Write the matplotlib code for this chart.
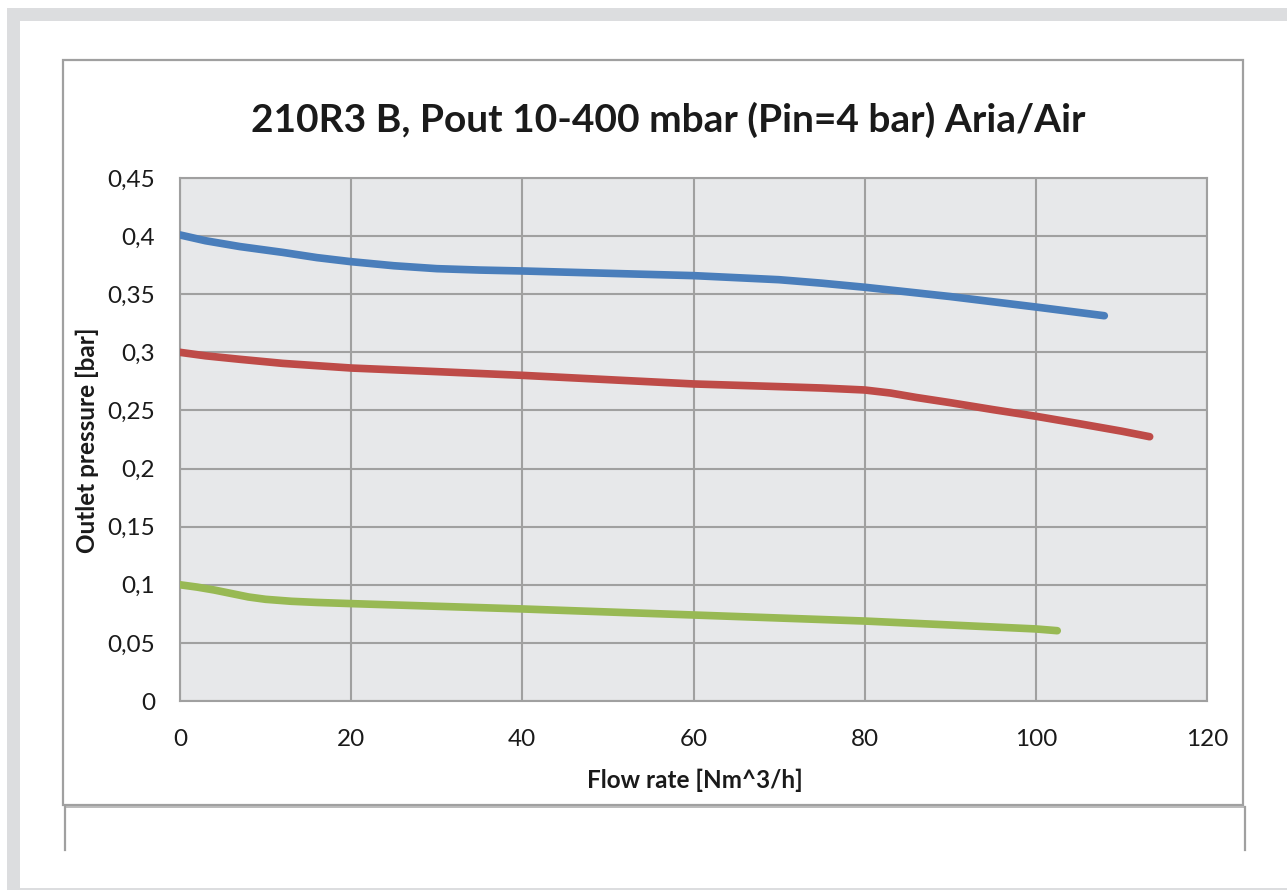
import matplotlib
matplotlib.use("Agg")
import matplotlib.pyplot as plt
from matplotlib.patches import Rectangle
from matplotlib.lines import Line2D

# ---- data ----
blue_x = [0, 3, 7, 12, 16, 20, 25, 30, 35, 40, 50, 60, 70, 75, 80, 85, 90, 95, 100, 108]
blue_y = [0.401, 0.396, 0.391, 0.386, 0.3815, 0.378, 0.3745, 0.372, 0.3708, 0.370, 0.368, 0.366, 0.3625,
          0.3595, 0.356, 0.352, 0.348, 0.3435, 0.339, 0.3315]

red_x = [0, 3, 7, 12, 16, 20, 30, 40, 50, 60, 70, 75, 80, 83, 86, 90, 95, 100, 105, 110, 113.3]
red_y = [0.300, 0.297, 0.294, 0.2905, 0.2885, 0.2865, 0.2834, 0.2802, 0.2765, 0.2728, 0.2705, 0.2693,
         0.2676, 0.2650, 0.2612, 0.2567, 0.2507, 0.2450, 0.2387, 0.2322, 0.2274]

green_x = [0, 2, 4, 6, 8, 10, 13, 16, 20, 40, 60, 80, 100, 102.5]
green_y = [0.100, 0.098, 0.0955, 0.0925, 0.0895, 0.0875, 0.0858, 0.0848, 0.0838, 0.0792, 0.0740, 0.0688,
           0.0620, 0.0605]

x_ticks = [0, 20, 40, 60, 80, 100, 120]
y_ticks = [0, 0.05, 0.10, 0.15, 0.20, 0.25, 0.30, 0.35, 0.40, 0.45]
y_tick_labels = ["0", "0,05", "0,1", "0,15", "0,2", "0,25", "0,3", "0,35", "0,4", "0,45"]

title = "210R3 B, Pout 10-400 mbar (Pin=4 bar) Aria/Air"
xlabel = "Flow rate [Nm^3/h]"
ylabel = "Outlet pressure [bar]"

# ---- figure ----
W, H = 1287, 890
fig = plt.figure(figsize=(W / 100, H / 100), dpi=100)
plt.rcParams['font.family'] = ['Lato', 'DejaVu Sans']

def fx(px):
    return px / W

def fy(py):
    return 1 - py / H

band = "#DCDDDF"
# outer gray band
fig.patches.append(Rectangle((fx(7), fy(890)), fx(13), (890 - 8) / H, transform=fig.transFigure,
                             facecolor=band, edgecolor="none", zorder=0))
fig.patches.append(Rectangle((fx(7), fy(21)), 1 - fx(7), 13 / H, transform=fig.transFigure,
                             facecolor=band, edgecolor="none", zorder=0))
fig.patches.append(Rectangle((fx(7), 0), 1 - fx(7), 2 / H, transform=fig.transFigure,
                             facecolor=band, edgecolor="none", zorder=0))

frame_col = "#A0A0A0"
fig.patches.append(Rectangle((fx(63), fy(805)), fx(1243 - 63), (805 - 60) / H, transform=fig.transFigure,
                             facecolor="white", edgecolor=frame_col, linewidth=1.6, zorder=1))
# lower box fragment
fig.lines.append(Line2D([fx(65), fx(1245)], [fy(807), fy(807)], transform=fig.transFigure,
                        color="#B0B0B0", linewidth=1.2))
fig.lines.append(Line2D([fx(65), fx(65)], [fy(807), fy(850)], transform=fig.transFigure,
                        color=frame_col, linewidth=1.6))
fig.lines.append(Line2D([fx(1245), fx(1245)], [fy(807), fy(850)], transform=fig.transFigure,
                        color=frame_col, linewidth=1.6))

ax = fig.add_axes([fx(180), fy(701), fx(1207 - 180), (701 - 178) / H])
ax.set_facecolor("#E7E8EA")
ax.set_zorder(2)

lw = 5.5
ax.plot(blue_x, blue_y, color="#4A7EBB", linewidth=lw, solid_capstyle="round", solid_joinstyle="round", zorder=3)
ax.plot(red_x, red_y, color="#BE4B48", linewidth=lw, solid_capstyle="round", solid_joinstyle="round", zorder=3)
ax.plot(green_x, green_y, color="#98B954", linewidth=lw, solid_capstyle="round", solid_joinstyle="round", zorder=3)

ax.set_xlim(0, 120)
ax.set_ylim(0, 0.45)
ax.set_xticks(x_ticks)
ax.set_xticklabels([str(v) for v in x_ticks])
ax.set_yticks(y_ticks)
ax.set_yticklabels(y_tick_labels)
ax.grid(True, color="#A0A0A0", linewidth=1.5)
ax.set_axisbelow(True)
for s in ax.spines.values():
    s.set_color("#A0A0A0")
    s.set_linewidth(1.5)
ax.tick_params(length=0, labelsize=17.5, colors="#1a1a1a")
ax.tick_params(axis='y', pad=18)
ax.tick_params(axis='x', pad=20)

fig.text(fx(668), fy(120), title, ha="center", va="center", fontsize=28, fontweight="bold", color="#1a1a1a")
fig.text(fx(695), fy(780), xlabel, ha="center", va="center", fontsize=17.5, fontweight="bold", color="#1a1a1a")
fig.text(fx(87), fy(440), ylabel, ha="center", va="center", rotation=90, fontsize=17.5, fontweight="bold", color="#1a1a1a")

fig.savefig("out.png", dpi=100, facecolor="white")
